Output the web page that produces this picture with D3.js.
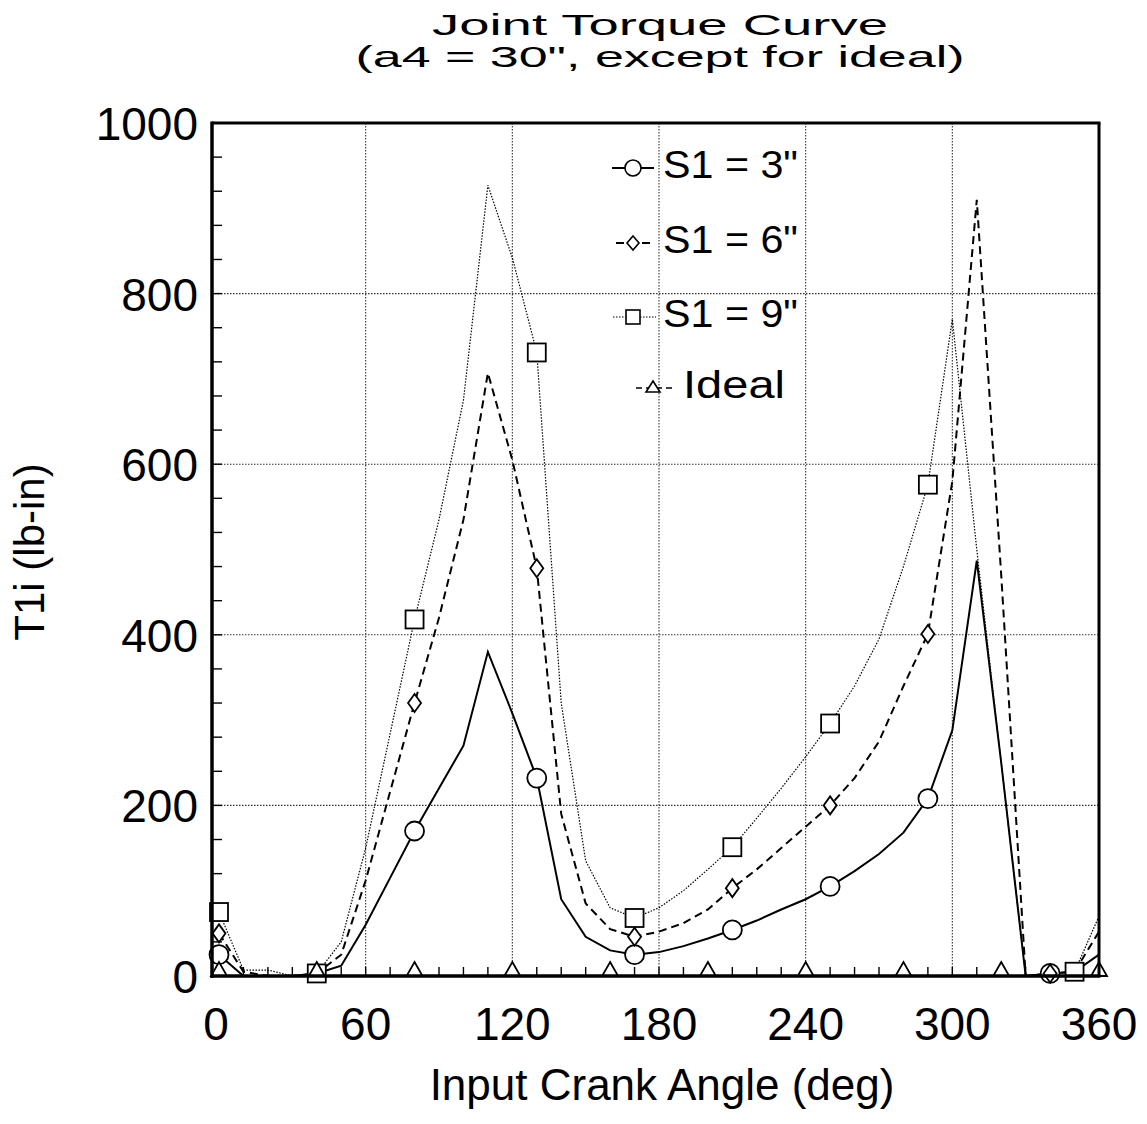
<!DOCTYPE html>
<html><head><meta charset="utf-8">
<script src="https://cdn.jsdelivr.net/npm/d3@7"></script>
<style>body{margin:0;background:#fff}svg{display:block}</style>
</head><body>
<svg id="c" width="1147" height="1124"></svg>
<script>
// ---- data ----
const angles = [0,10,20,30,40,50,60,70,80,90,100,110,120,130,140,150,160,170,180,190,200,210,220,230,240,250,260,270,280,290,300,310,320,330,340,350,360];
const s1_3 = [25,0,0,0,3,12,60,115,170,220,270,380,308,232,90,46,30,25,28,35,44,54,65,78,90,105,123,143,168,208,288,487,250,0,3,5,25];
const s1_6 = [50,5,0,0,3,25,112,216,320,420,535,707,605,478,190,85,55,46,52,62,78,103,125,150,175,200,232,275,340,401,580,910,470,0,3,5,52];
const s1_9 = [75,7,7,0,3,40,150,284,418,535,675,927,842,731,320,135,80,68,80,100,125,151,185,220,257,296,340,395,480,576,770,500,250,0,3,5,70];
const ideal = [0,0,0,0,0,0,0,0,0,0,0,0,0,0,0,0,0,0,0,0,0,0,0,0,0,0,0,0,0,0,0,0,0,0,0,0,0];
const circleAt   = [0,80,130,170,210,250,290,340];
const diamondAt  = [0,80,130,170,210,250,290,340];
const squareAt   = [0,40,80,130,170,210,250,290,350];
const triangleAt = [0,40,80,120,160,200,240,280,320,360];
const xTicks = [0,60,120,180,240,300,360];
const yTicks = [0,200,400,600,800,1000];
const seriesNames = ['S1 = 3"','S1 = 6"','S1 = 9"','Ideal'];
const titleLines = ['Joint Torque Curve','(a4 = 30", except for ideal)'];
const xTitle = 'Input Crank Angle (deg)';
const yTitle = 'T1i (lb-in)';

// ---- layout ----
const svg = d3.select('#c');
const FONT = '"Liberation Sans", Arial, sans-serif';
const x = d3.scaleLinear().domain([0,360]).range([219,1099]);
const y = d3.scaleLinear().domain([0,1000]).range([976,123]);
const xLeft = x.invert(212);

const series = [
  {name: seriesNames[0], vals: s1_3, marks: circleAt,   shape:'circle',   dash:null,  w:2},
  {name: seriesNames[1], vals: s1_6, marks: diamondAt,  shape:'diamond',  dash:'8,5', w:2},
  {name: seriesNames[2], vals: s1_9, marks: squareAt,   shape:'square',   dash:'1.5,1.5', w:1.2},
  {name: seriesNames[3], vals: ideal,marks: triangleAt, shape:'triangle', dash:'6,4', w:1.5}
];

// gridlines
const g = svg.append('g');
xTicks.filter(t=>t>0 && t<360).forEach(t=>{
  g.append('line').attr('x1',x(t)).attr('x2',x(t)).attr('y1',y(1000)).attr('y2',y(0))
   .attr('stroke','#333').attr('stroke-width',1.1).attr('stroke-dasharray','1.5,1.5');
});
yTicks.filter(t=>t>0 && t<1000).forEach(t=>{
  g.append('line').attr('x1',x(xLeft)).attr('x2',x(360)).attr('y1',y(t)).attr('y2',y(t))
   .attr('stroke','#333').attr('stroke-width',1.1).attr('stroke-dasharray','1.5,1.5');
});

// minor ticks
d3.range(10,360,10).forEach(t=>{
  svg.append('line').attr('x1',x(t)).attr('x2',x(t)).attr('y1',y(0)).attr('y2',y(0)-9)
    .attr('stroke','#000').attr('stroke-width',1.4);
});
d3.range(40,1000,40).forEach(t=>{
  svg.append('line').attr('x1',x(xLeft)).attr('x2',x(xLeft)+10).attr('y1',y(t)).attr('y2',y(t))
    .attr('stroke','#000').attr('stroke-width',1.4);
});

// lines
const line = d3.line().x(d=>x(d[0])).y(d=>y(d[1]));
series.forEach(s=>{
  const pts = angles.map((a,i)=>[a,s.vals[i]]);
  svg.append('path').attr('d',line(pts)).attr('fill','none').attr('stroke','#000')
    .attr('stroke-width',s.w).attr('stroke-dasharray',s.dash);
});

function marker(sel, shape, cx, cy){
  const st = {fill:'#fff', stroke:'#000', 'stroke-width':1.8};
  let m;
  if(shape==='circle') m = sel.append('circle').attr('cx',cx).attr('cy',cy).attr('r',9.5);
  else if(shape==='square') m = sel.append('rect').attr('x',cx-9).attr('y',cy-9).attr('width',18).attr('height',18);
  else if(shape==='diamond') m = sel.append('path').attr('d',`M${cx},${cy-9}L${cx+6.5},${cy}L${cx},${cy+9}L${cx-6.5},${cy}Z`);
  else m = sel.append('path').attr('d',`M${cx},${cy-13}L${cx+8},${cy+1}L${cx-8},${cy+1}Z`);
  Object.entries(st).forEach(([k,v])=>m.attr(k,v));
  return m;
}
series.forEach(s=>{
  s.marks.forEach(a=>{
    const i = angles.indexOf(a);
    marker(svg, s.shape, x(a), s.shape==='triangle'? y(s.vals[i])-1 : y(s.vals[i]));
  });
});

// frame
svg.append('line').attr('x1',x(xLeft)).attr('x2',x(xLeft)).attr('y1',y(1000)-1.5).attr('y2',y(0)+2).attr('stroke','#000').attr('stroke-width',3.5);
svg.append('line').attr('x1',x(xLeft)).attr('x2',x(360)+1.5).attr('y1',y(0)).attr('y2',y(0)).attr('stroke','#000').attr('stroke-width',3.5);
svg.append('line').attr('x1',x(xLeft)).attr('x2',x(360)+1.5).attr('y1',y(1000)).attr('y2',y(1000)).attr('stroke','#000').attr('stroke-width',3);
svg.append('line').attr('x1',x(360)).attr('x2',x(360)).attr('y1',y(1000)).attr('y2',y(0)).attr('stroke','#000').attr('stroke-width',3);

// tick labels
yTicks.forEach(t=>{
  svg.append('text').attr('x',198).attr('y',y(t)+17).attr('text-anchor','end')
    .attr('font-family',FONT).attr('font-size',46).text(t);
});
xTicks.forEach(t=>{
  svg.append('text').attr('x',x(t)-(t===0?3:0)).attr('y',1040).attr('text-anchor','middle')
    .attr('font-family',FONT).attr('font-size',46).text(t);
});

// axis titles
svg.append('text').attr('x',662).attr('y',1100).attr('text-anchor','middle')
  .attr('font-family',FONT).attr('font-size',44).text(xTitle);
svg.append('text').attr('transform','translate(44,552) rotate(-90)').attr('text-anchor','middle')
  .attr('font-family',FONT).attr('font-size',42).text(yTitle);

// title
svg.append('text').attr('x',660).attr('y',35).attr('text-anchor','middle')
  .attr('font-family',FONT).attr('font-size',29).attr('textLength',456).attr('lengthAdjust','spacingAndGlyphs').text(titleLines[0]);
svg.append('text').attr('x',660).attr('y',67).attr('text-anchor','middle')
  .attr('font-family',FONT).attr('font-size',29).attr('textLength',609).attr('lengthAdjust','spacingAndGlyphs').text(titleLines[1]);

// legend
const leg = [
  {cy:168, x0:612, x1:654, mx:633, tx:663, tw:135},
  {cy:243, x0:616, x1:654, mx:633, tx:663, tw:135},
  {cy:317, x0:613, x1:656, mx:633, tx:663, tw:135},
  {cy:388, x0:636, x1:672, mx:653, tx:683, tw:102}
];
series.forEach((s,i)=>{
  const L = leg[i];
  svg.append('line').attr('x1',L.x0).attr('x2',L.x1).attr('y1',L.cy).attr('y2',L.cy)
    .attr('stroke','#000').attr('stroke-width',s.w).attr('stroke-dasharray', s.dash);
  if(s.shape==='circle') svg.append('circle').attr('cx',L.mx).attr('cy',L.cy).attr('r',8).attr('fill','#fff').attr('stroke','#000').attr('stroke-width',1.6);
  else if(s.shape==='diamond') svg.append('path').attr('d',`M${L.mx},${L.cy-7}L${L.mx+6},${L.cy}L${L.mx},${L.cy+7}L${L.mx-6},${L.cy}Z`).attr('fill','#fff').attr('stroke','#000').attr('stroke-width',1.6);
  else if(s.shape==='square') svg.append('rect').attr('x',L.mx-7).attr('y',L.cy-7).attr('width',14).attr('height',14).attr('fill','#fff').attr('stroke','#000').attr('stroke-width',1.6);
  else svg.append('path').attr('d',`M${L.mx},${L.cy-7}L${L.mx+7},${L.cy+4}L${L.mx-7},${L.cy+4}Z`).attr('fill','#fff').attr('stroke','#000').attr('stroke-width',1.6);
  svg.append('text').attr('x',L.tx).attr('y',L.cy+10).attr('font-family',FONT).attr('font-size',38)
    .attr('textLength',L.tw).attr('lengthAdjust','spacingAndGlyphs').text(s.name);
});
</script>
</body></html>
